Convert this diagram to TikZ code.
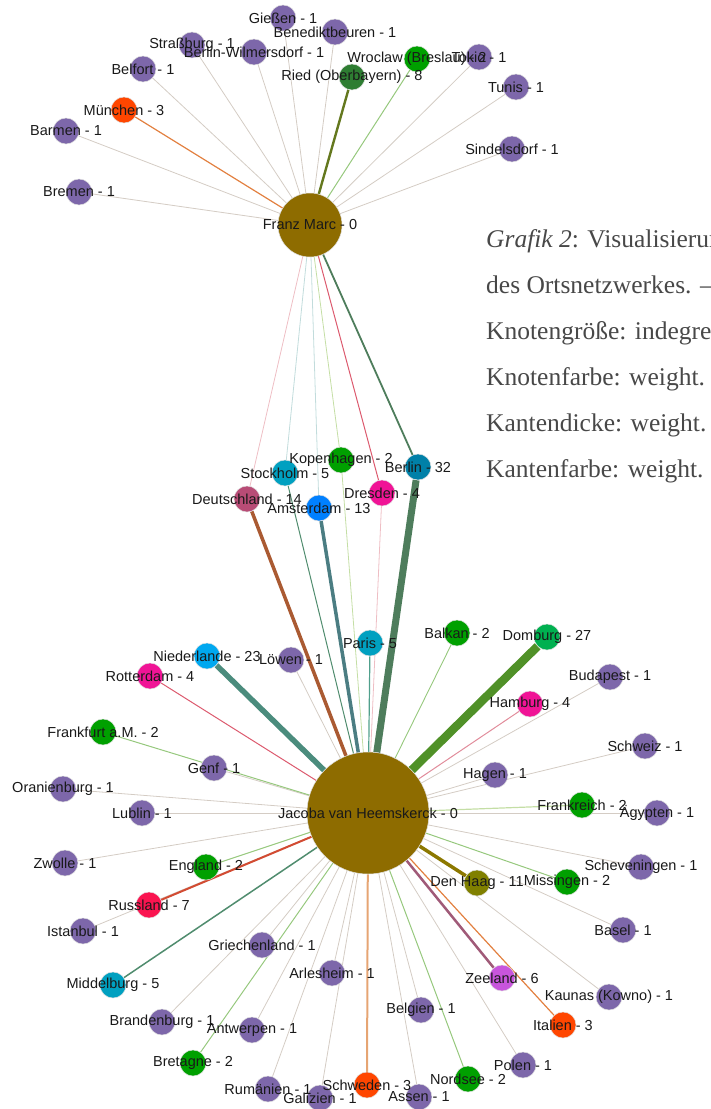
\documentclass[tikz,border=0pt]{standalone}
\usepackage{fontspec}
\setmainfont{Liberation Serif}
\newfontfamily\netfont{Liberation Sans}
\usetikzlibrary{backgrounds}

% node colours (weight)
\definecolor{hubBrown}{RGB}{142,108,0}
\definecolor{wOne}{RGB}{125,103,170}
\definecolor{wTwo}{RGB}{0,160,0}
\definecolor{wThree}{RGB}{255,70,0}
\definecolor{wFour}{RGB}{240,20,150}
\definecolor{wFive}{RGB}{0,160,192}
\definecolor{wSix}{RGB}{200,85,220}
\definecolor{wSeven}{RGB}{250,20,80}
\definecolor{wEight}{RGB}{46,125,50}
\definecolor{wEleven}{RGB}{128,128,0}
\definecolor{wThirteen}{RGB}{0,128,255}
\definecolor{wFourteen}{RGB}{184,76,118}
\definecolor{wTwentythree}{RGB}{0,168,240}
\definecolor{wTwentyseven}{RGB}{0,176,80}
\definecolor{wThirtytwo}{RGB}{0,128,168}
% edge colours
\definecolor{linkPale}{RGB}{212,204,196}
\definecolor{linkOrange}{RGB}{226,128,64}
\definecolor{linkOlive}{RGB}{100,120,30}
\definecolor{linkLightGreen}{RGB}{150,200,125}
\definecolor{linkPaleGreen}{RGB}{196,222,165}
\definecolor{linkPalePink}{RGB}{238,190,196}
\definecolor{linkPaleTeal}{RGB}{194,220,220}
\definecolor{linkRed}{RGB}{220,90,110}
\definecolor{linkDarkGreen}{RGB}{78,125,92}
\definecolor{linkSienna}{RGB}{170,90,50}
\definecolor{linkTeal}{RGB}{80,140,110}
\definecolor{linkSlate}{RGB}{75,125,130}
\definecolor{linkSea}{RGB}{75,140,125}
\definecolor{linkGrass}{RGB}{80,145,40}
\definecolor{linkPink}{RGB}{225,140,155}
\definecolor{linkBrick}{RGB}{210,75,50}
\definecolor{linkDenHaag}{RGB}{140,120,0}
\definecolor{linkMauve}{RGB}{160,90,120}
\definecolor{linkPeach}{RGB}{230,165,115}
\definecolor{linkMint}{RGB}{80,160,140}
\definecolor{capGray}{RGB}{72,72,72}

\begin{document}
\begin{tikzpicture}[x=1pt,y=-1pt,
		place/.style={circle,minimum size=26pt,inner sep=0pt,draw=white!75!gray,line width=0.5pt,fill=wOne},
		hub/.style={place,fill=hubBrown},
		link/.style={draw=linkPale,line width=0.8pt},
		lbl/.style={inner sep=0pt,text=black!90,font=\netfont\fontsize{14.5pt}{16pt}\selectfont},
		capt/.style={anchor=base west,inner sep=0pt,text=capGray,font=\fontsize{25.5pt}{28pt}\selectfont}]
		\useasboundingbox (0,0) rectangle (711,1109);
		\clip (0,0) rectangle (711,1109);

		% Hubs
		\node[hub,minimum size=64pt] (marc) at (310,225) {};
		\node[hub,minimum size=122pt] (jacoba) at (368,813) {};

		% Places of Franz Marc
		\node[place] (giessen) at (283,18) {};
		\node[place] (benedikt) at (335,32) {};
		\node[place] (wilmersdorf) at (254,52) {};
		\node[place] (strassburg) at (192,45) {};
		\node[place] (belfort) at (143,69) {};
		\node[place,fill=wThree] (muenchen) at (124,110) {};
		\node[place] (barmen) at (66,131) {};
		\node[place] (bremen) at (79,192) {};
		\node[place,fill=wEight] (ried) at (352,77) {};
		\node[place,fill=wTwo] (wroclaw) at (417,59) {};
		\node[place] (tokio) at (479,57) {};
		\node[place] (tunis) at (516,87) {};
		\node[place] (sindelsdorf) at (512,149) {};

		% Shared places
		\node[place,fill=wFourteen] (deutschland) at (247,499) {};
		\node[place,fill=wFive] (stockholm) at (285,473) {};
		\node[place,fill=wThirteen] (amsterdam) at (319,508) {};
		\node[place,fill=wTwo] (kopenhagen) at (341,460) {};
		\node[place,fill=wFour] (dresden) at (382,493) {};
		\node[place,fill=wThirtytwo] (berlin) at (418,467) {};

		% Places of Jacoba van Heemskerck
		\node[place,fill=wFive] (paris) at (370,643) {};
		\node[place,fill=wTwo] (balkan) at (457,633) {};
		\node[place,fill=wTwentyseven] (domburg) at (547,637) {};
		\node[place,fill=wTwentythree] (niederlande) at (207,656) {};
		\node[place] (loewen) at (291,660) {};
		\node[place,fill=wFour] (rotterdam) at (150,676) {};
		\node[place] (budapest) at (610,677) {};
		\node[place,fill=wFour] (hamburg) at (530,704) {};
		\node[place,fill=wTwo] (frankfurt) at (103,732) {};
		\node[place] (schweiz) at (645,746) {};
		\node[place] (genf) at (214,768) {};
		\node[place] (hagen) at (495,775) {};
		\node[place] (oranienburg) at (63,789) {};
		\node[place,fill=wTwo] (frankreich) at (582,805) {};
		\node[place] (lublin) at (142,813) {};
		\node[place] (aegypten) at (657,813) {};
		\node[place] (zwolle) at (65,863) {};
		\node[place,fill=wTwo] (england) at (206,867) {};
		\node[place] (scheveningen) at (641,867) {};
		\node[place,fill=wEleven] (denhaag) at (477,883) {};
		\node[place,fill=wTwo] (missingen) at (567,882) {};
		\node[place,fill=wSeven] (russland) at (149,905) {};
		\node[place] (basel) at (623,930) {};
		\node[place] (istanbul) at (83,931) {};
		\node[place] (griechenland) at (262,945) {};
		\node[place] (arlesheim) at (332,973) {};
		\node[place,fill=wSix] (zeeland) at (502,978) {};
		\node[place,fill=wFive] (middelburg) at (113,985) {};
		\node[place] (kaunas) at (609,997) {};
		\node[place] (belgien) at (421,1010) {};
		\node[place] (brandenburg) at (162,1022) {};
		\node[place,fill=wThree] (italien) at (563,1025) {};
		\node[place] (antwerpen) at (252,1030) {};
		\node[place,fill=wTwo] (bretagne) at (193,1063) {};
		\node[place] (polen) at (523,1065) {};
		\node[place,fill=wTwo] (nordsee) at (468,1079) {};
		\node[place,fill=wThree] (schweden) at (367,1085) {};
		\node[place] (rumaenien) at (268,1089) {};
		\node[place] (assen) at (419,1097) {};
		\node[place] (galizien) at (320,1098) {};

		% Edges
		\begin{scope}[on background layer]
		\draw[link] (marc) -- (giessen);
		\draw[link] (marc) -- (benedikt);
		\draw[link] (marc) -- (wilmersdorf);
		\draw[link] (marc) -- (strassburg);
		\draw[link] (marc) -- (belfort);
		\draw[link,draw=linkOrange,line width=1.2pt] (marc) -- (muenchen);
		\draw[link] (marc) -- (barmen);
		\draw[link] (marc) -- (bremen);
		\draw[link,draw=linkOlive,line width=2.4pt] (marc) -- (ried);
		\draw[link,draw=linkLightGreen,line width=1pt] (marc) -- (wroclaw);
		\draw[link] (marc) -- (tokio);
		\draw[link] (marc) -- (tunis);
		\draw[link] (marc) -- (sindelsdorf);
		\draw[link,draw=linkPalePink] (marc) -- (deutschland);
		\draw[link,draw=linkPaleTeal] (marc) -- (stockholm);
		\draw[link,draw=linkPaleTeal] (marc) -- (amsterdam);
		\draw[link,draw=linkPaleGreen] (marc) -- (kopenhagen);
		\draw[link,draw=linkRed,line width=1pt] (marc) -- (dresden);
		\draw[link,draw=linkDarkGreen,line width=1.8pt] (marc) -- (berlin);

		\draw[link,draw=linkSienna,line width=3.5pt] (jacoba) -- (deutschland);
		\draw[link,draw=linkTeal,line width=1pt] (jacoba) -- (stockholm);
		\draw[link,draw=linkSlate,line width=3.5pt] (jacoba) -- (amsterdam);
		\draw[link,draw=linkPaleGreen] (jacoba) -- (kopenhagen);
		\draw[link,draw=linkPalePink] (jacoba) -- (dresden);
		\draw[link,draw=linkDarkGreen,line width=7pt] (jacoba) -- (berlin);
		\draw[link,draw=linkMint,line width=1.2pt] (jacoba) -- (paris);
		\draw[link,draw=linkLightGreen,line width=0.9pt] (jacoba) -- (balkan);
		\draw[link,draw=linkGrass,line width=8.5pt] (jacoba) -- (domburg);
		\draw[link,draw=linkSea,line width=5.5pt] (jacoba) -- (niederlande);
		\draw[link] (jacoba) -- (loewen);
		\draw[link,draw=linkRed,line width=1pt] (jacoba) -- (rotterdam);
		\draw[link] (jacoba) -- (budapest);
		\draw[link,draw=linkPink,line width=1pt] (jacoba) -- (hamburg);
		\draw[link] (jacoba) -- (genf);
		\draw[link,draw=linkLightGreen,line width=1pt] (jacoba) -- (frankfurt);
		\draw[link] (jacoba) -- (schweiz);
		\draw[link] (jacoba) -- (hagen);
		\draw[link] (jacoba) -- (oranienburg);
		\draw[link,draw=linkPaleGreen,line width=1.2pt] (jacoba) -- (frankreich);
		\draw[link] (jacoba) -- (lublin);
		\draw[link] (jacoba) -- (aegypten);
		\draw[link] (jacoba) -- (zwolle);
		\draw[link,draw=linkLightGreen,line width=1pt] (jacoba) -- (england);
		\draw[link] (jacoba) -- (scheveningen);
		\draw[link,draw=linkDenHaag,line width=3.5pt] (jacoba) -- (denhaag);
		\draw[link,draw=linkLightGreen,line width=1pt] (jacoba) -- (missingen);
		\draw[link] (jacoba) -- (istanbul);
		\draw[link,draw=linkBrick,line width=2pt] (jacoba) -- (russland);
		\draw[link] (jacoba) -- (basel);
		\draw[link] (jacoba) -- (griechenland);
		\draw[link] (jacoba) -- (arlesheim);
		\draw[link,draw=linkMauve,line width=2.5pt] (jacoba) -- (zeeland);
		\draw[link,draw=linkTeal,line width=1.5pt] (jacoba) -- (middelburg);
		\draw[link] (jacoba) -- (kaunas);
		\draw[link] (jacoba) -- (belgien);
		\draw[link] (jacoba) -- (brandenburg);
		\draw[link,draw=linkOrange,line width=1.2pt] (jacoba) -- (italien);
		\draw[link] (jacoba) -- (antwerpen);
		\draw[link,draw=linkLightGreen,line width=1pt] (jacoba) -- (bretagne);
		\draw[link] (jacoba) -- (polen);
		\draw[link,draw=linkLightGreen,line width=1pt] (jacoba) -- (nordsee);
		\draw[link,draw=linkPeach,line width=2pt] (jacoba) -- (schweden);
		\draw[link] (jacoba) -- (rumaenien);
		\draw[link] (jacoba) -- (assen);
		\draw[link] (jacoba) -- (galizien);
		\end{scope}

		% Labels
		\node[lbl] (marcT) at (marc) {Franz Marc - 0};
		\node[lbl] (jacobaT) at (jacoba) {Jacoba van Heemskerck - 0};
		\node[lbl] (giessenT) at (giessen) {Gießen - 1};
		\node[lbl] (benediktT) at (benedikt) {Benediktbeuren - 1};
		\node[lbl] (wilmersdorfT) at (wilmersdorf) {Berlin-Wilmersdorf - 1};
		\node[lbl] (strassburgT) at (strassburg) {Straßburg - 1};
		\node[lbl] (belfortT) at (belfort) {Belfort - 1};
		\node[lbl] (muenchenT) at (muenchen) {München - 3};
		\node[lbl] (barmenT) at (barmen) {Barmen - 1};
		\node[lbl] (bremenT) at (bremen) {Bremen - 1};
		\node[lbl] (riedT) at (ried) {Ried (Oberbayern) - 8};
		\node[lbl] (wroclawT) at (wroclaw) {Wroclaw (Breslau) - 2};
		\node[lbl] (tokioT) at (tokio) {Tokio - 1};
		\node[lbl] (tunisT) at (tunis) {Tunis - 1};
		\node[lbl] (sindelsdorfT) at (sindelsdorf) {Sindelsdorf - 1};
		\node[lbl] (deutschlandT) at (deutschland) {Deutschland - 14};
		\node[lbl] (stockholmT) at (stockholm) {Stockholm - 5};
		\node[lbl] (amsterdamT) at (amsterdam) {Amsterdam - 13};
		\node[lbl] (kopenhagenT) at (kopenhagen) {Kopenhagen - 2};
		\node[lbl] (dresdenT) at (dresden) {Dresden - 4};
		\node[lbl] (berlinT) at (berlin) {Berlin - 32};
		\node[lbl] (parisT) at (paris) {Paris - 5};
		\node[lbl] (balkanT) at (balkan) {Balkan - 2};
		\node[lbl] (domburgT) at (domburg) {Domburg - 27};
		\node[lbl] (niederlandeT) at (niederlande) {Niederlande - 23};
		\node[lbl] (loewenT) at (loewen) {Löwen - 1};
		\node[lbl] (rotterdamT) at (rotterdam) {Rotterdam - 4};
		\node[lbl] (budapestT) at (budapest) {Budapest - 1};
		\node[lbl] (hamburgT) at (hamburg) {Hamburg - 4};
		\node[lbl] (frankfurtT) at (frankfurt) {Frankfurt a.M. - 2};
		\node[lbl] (schweizT) at (schweiz) {Schweiz - 1};
		\node[lbl] (genfT) at (genf) {Genf - 1};
		\node[lbl] (hagenT) at (hagen) {Hagen - 1};
		\node[lbl] (oranienburgT) at (oranienburg) {Oranienburg - 1};
		\node[lbl] (frankreichT) at (frankreich) {Frankreich - 2};
		\node[lbl] (lublinT) at (lublin) {Lublin - 1};
		\node[lbl] (aegyptenT) at (aegypten) {Ägypten - 1};
		\node[lbl] (zwolleT) at (zwolle) {Zwolle - 1};
		\node[lbl] (englandT) at (england) {England - 2};
		\node[lbl] (schevT) at (scheveningen) {Scheveningen - 1};
		\node[lbl] (denhaagT) at (denhaag) {Den Haag - 11};
		\node[lbl] (missingenT) at (missingen) {Missingen - 2};
		\node[lbl] (russlandT) at (russland) {Russland - 7};
		\node[lbl] (baselT) at (basel) {Basel - 1};
		\node[lbl] (istanbulT) at (istanbul) {Istanbul - 1};
		\node[lbl] (griechenlandT) at (griechenland) {Griechenland - 1};
		\node[lbl] (arlesheimT) at (arlesheim) {Arlesheim - 1};
		\node[lbl] (zeelandT) at (zeeland) {Zeeland - 6};
		\node[lbl] (middelburgT) at (middelburg) {Middelburg - 5};
		\node[lbl] (kaunasT) at (kaunas) {Kaunas (Kowno) - 1};
		\node[lbl] (belgienT) at (belgien) {Belgien - 1};
		\node[lbl] (brandenburgT) at (brandenburg) {Brandenburg - 1};
		\node[lbl] (italienT) at (italien) {Italien - 3};
		\node[lbl] (antwerpenT) at (antwerpen) {Antwerpen - 1};
		\node[lbl] (bretagneT) at (bretagne) {Bretagne - 2};
		\node[lbl] (polenT) at (polen) {Polen - 1};
		\node[lbl] (nordseeT) at (nordsee) {Nordsee - 2};
		\node[lbl] (schwedenT) at (schweden) {Schweden - 3};
		\node[lbl] (rumaenienT) at (rumaenien) {Rumänien - 1};
		\node[lbl] (assenT) at (assen) {Assen - 1};
		\node[lbl] (galizienT) at (galizien) {Galizien - 1};

		% Caption
		\node[capt] (capA) at (486,247) {\textit{Grafik 2}: Visualisierung};
		\node[capt] (capB) at (486,293) {des Ortsnetzwerkes. –};
		\node[capt] (capC) at (486,339) {Knotengröße: indegree.};
		\node[capt] (capD) at (486,385) {Knotenfarbe: weight.};
		\node[capt] (capE) at (486,431) {Kantendicke: weight.};
		\node[capt] (capF) at (486,477) {Kantenfarbe: weight.};
	\end{tikzpicture}
\end{document}
